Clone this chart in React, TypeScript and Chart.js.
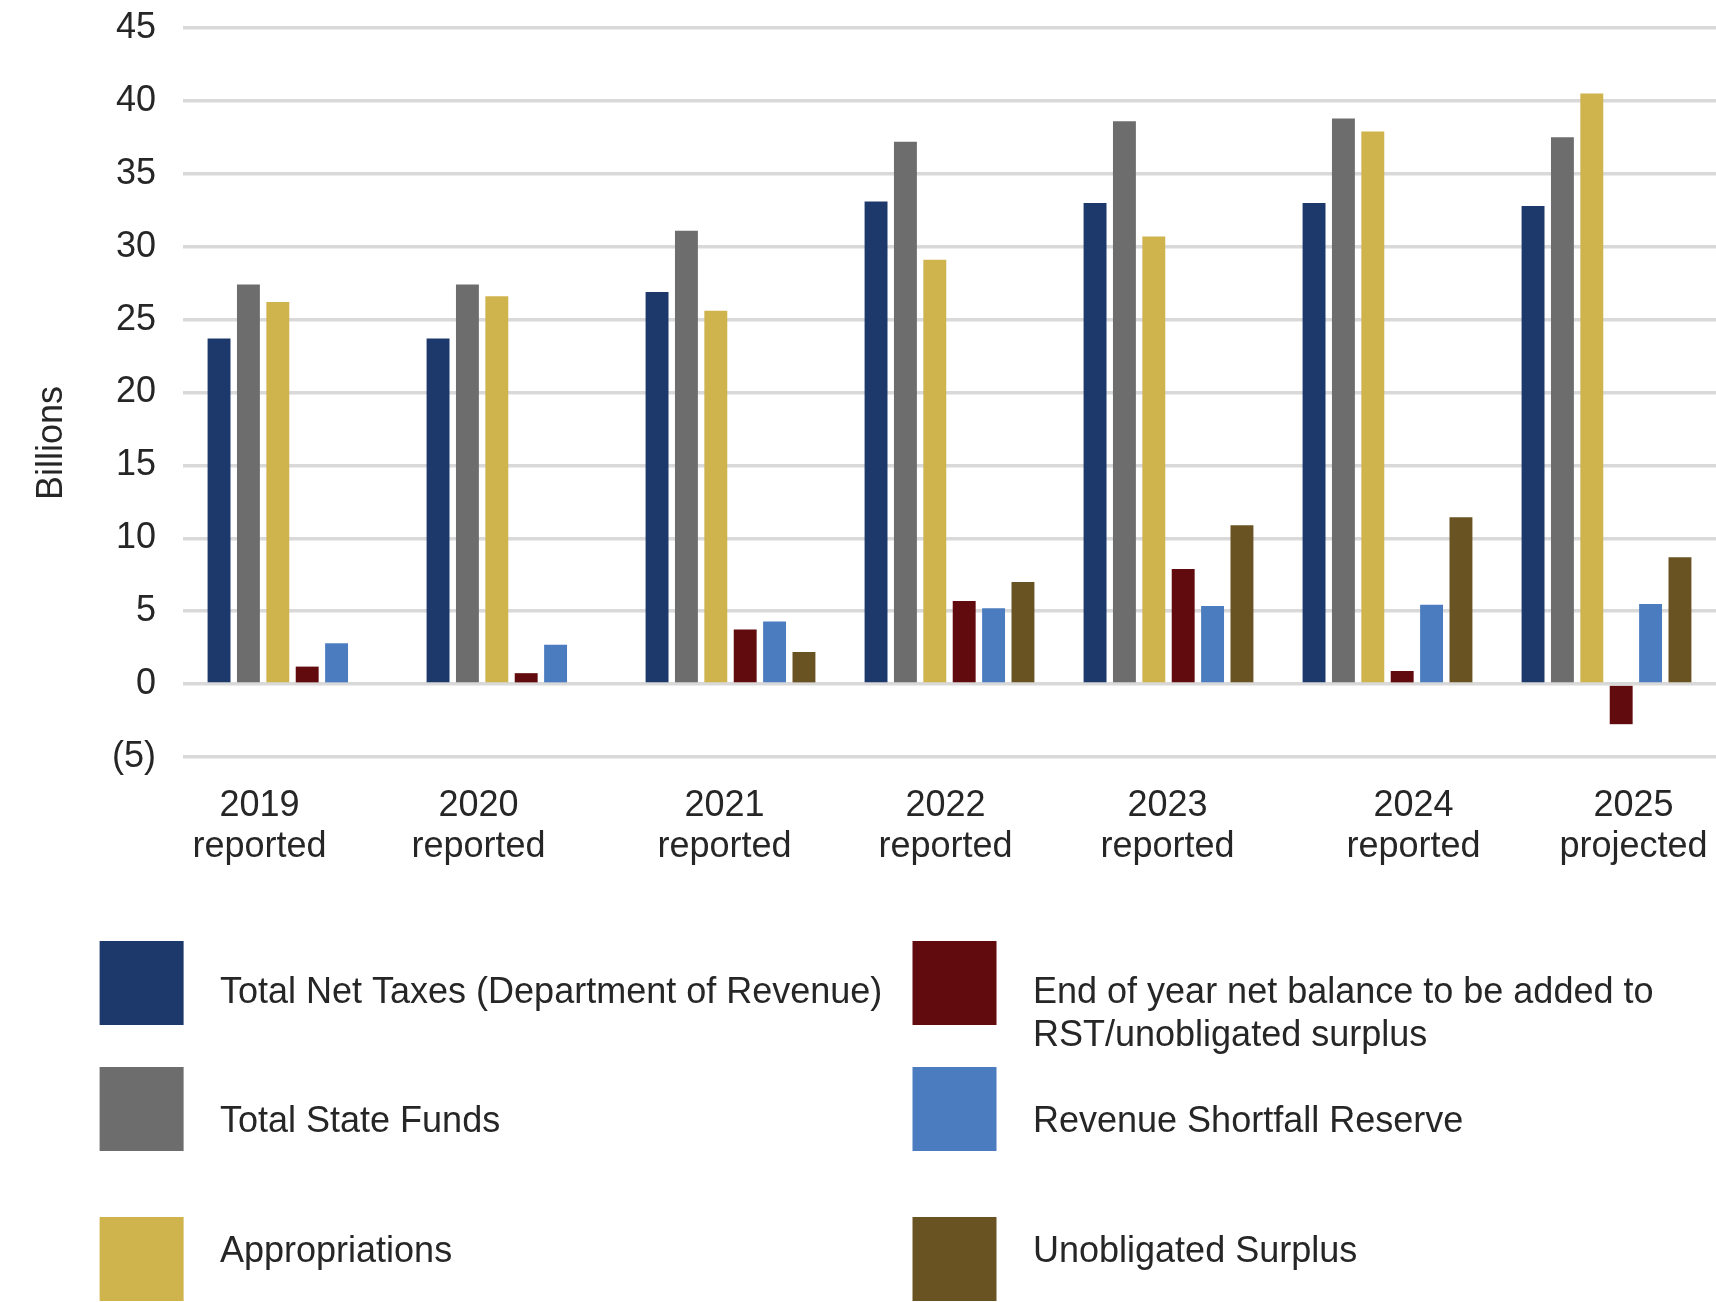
import React, { useEffect, useRef } from 'react';
import { Chart, registerables } from 'chart.js';

Chart.register(...registerables);

// ---- data ----
const categoryYears = ['2019', '2020', '2021', '2022', '2023', '2024', '2025'];
const categoryStatus = ['reported', 'reported', 'reported', 'reported', 'reported', 'reported', 'projected'];

const totalNetTaxes = [23.7, 23.7, 26.9, 33.1, 33.0, 33.0, 32.8];
const totalStateFunds = [27.4, 27.4, 31.1, 37.2, 38.6, 38.8, 37.5];
const appropriations = [26.2, 26.6, 25.6, 29.1, 30.7, 37.9, 40.5];
const endOfYearBalance = [1.2, 0.75, 3.75, 5.7, 7.9, 0.9, -2.75];
const revenueShortfallReserve = [2.8, 2.7, 4.3, 5.2, 5.35, 5.45, 5.5];
const unobligatedSurplus = [null, null, 2.2, 7.0, 10.9, 11.45, 8.7];

const seriesLabels = [
  'Total Net Taxes (Department of Revenue)',
  'Total State Funds',
  'Appropriations',
  'End of year net balance to be added to RST/unobligated surplus',
  'Revenue Shortfall Reserve',
  'Unobligated Surplus',
];

const yAxisTitle = 'Billions';
const yMin = -5;
const yMax = 45;
const yStep = 5;

// ---- styles ----
const seriesColors = ['#1d396c', '#6d6d6d', '#cfb34d', '#620b0e', '#4a7cbf', '#6a5322'];
const FONT = '"Liberation Sans", Arial, Helvetica, sans-serif';
const TEXT_COLOR = '#262626';
const GRID_COLOR = '#d9d9d9';
const W = 1716;
const H = 1302;

// x label horizontal nudges (layout only)
const xLabelShift = [-33, -33, -6, -4, -1, 26, 27];

const overlayPlugin = {
  id: 'overlay',
  afterDraw(chart: any) {
    const ctx = chart.ctx as CanvasRenderingContext2D;
    const xScale = chart.scales.x;
    ctx.save();
    ctx.fillStyle = TEXT_COLOR;
    ctx.font = `36px ${FONT}`;

    // y axis title
    ctx.save();
    ctx.translate(61.5, 443);
    ctx.rotate(-Math.PI / 2);
    ctx.textAlign = 'center';
    ctx.textBaseline = 'alphabetic';
    ctx.fillText(yAxisTitle, 0, 0);
    ctx.restore();

    // x category labels
    ctx.textAlign = 'center';
    ctx.textBaseline = 'alphabetic';
    categoryYears.forEach((yr, i) => {
      const cx = xScale.getPixelForValue(i) + xLabelShift[i];
      ctx.fillText(yr, cx, 816);
      ctx.fillText(categoryStatus[i], cx, 857);
    });

    // legend
    const colBoxX = [99.6, 912.5];
    const colTextX = [220, 1033];
    const colMaxW = [690, 683];
    const rowBoxTop = [941, 1067, 1217];
    const rowBaseline = [1003, 1132, 1262];
    const boxW = 84;
    const boxH = 84;
    ctx.textAlign = 'left';
    chart.data.datasets.forEach((ds: any, i: number) => {
      const col = Math.floor(i / 3);
      const row = i % 3;
      ctx.fillStyle = ds.backgroundColor;
      ctx.fillRect(colBoxX[col], rowBoxTop[row], boxW, boxH);
      ctx.fillStyle = TEXT_COLOR;
      const words = String(ds.label).split(' ');
      const lines: string[] = [];
      let cur = '';
      words.forEach((w) => {
        const test = cur ? cur + ' ' + w : w;
        if (ctx.measureText(test).width > colMaxW[col] && cur) {
          lines.push(cur);
          cur = w;
        } else {
          cur = test;
        }
      });
      if (cur) lines.push(cur);
      lines.forEach((ln, k) => {
        ctx.fillText(ln, colTextX[col], rowBaseline[row] + k * 43);
      });
    });

    ctx.restore();
  },
};

export default function App() {
  const canvasRef = useRef<HTMLCanvasElement | null>(null);

  useEffect(() => {
    if (!canvasRef.current) return;
    const seriesData = [
      totalNetTaxes,
      totalStateFunds,
      appropriations,
      endOfYearBalance,
      revenueShortfallReserve,
      unobligatedSurplus,
    ];
    const chart = new Chart(canvasRef.current, {
      type: 'bar',
      data: {
        labels: categoryYears,
        datasets: seriesData.map((d, i) => ({
          label: seriesLabels[i],
          data: d as any,
          backgroundColor: seriesColors[i],
          borderWidth: 0,
          categoryPercentage: 0.805,
          barPercentage: 0.78,
        })),
      },
      options: {
        responsive: false,
        devicePixelRatio: 1,
        animation: false,
        layout: { padding: { left: 0, right: 0, top: 28, bottom: H - 757 } },
        plugins: {
          legend: { display: false },
          tooltip: { enabled: false },
          title: { display: false },
        },
        scales: {
          x: {
            ticks: { display: false },
            grid: { display: false },
            border: { display: false },
            afterFit: (scale: any) => {
              scale.height = 0;
              scale.paddingLeft = 0;
              scale.paddingRight = 0;
            },
          },
          y: {
            min: yMin,
            max: yMax,
            ticks: {
              stepSize: yStep,
              padding: 27,
              color: TEXT_COLOR,
              font: { family: FONT, size: 36 },
              callback: (v: any) => (Number(v) < 0 ? `(${Math.abs(Number(v))})` : `${v}`),
            },
            grid: { color: GRID_COLOR, lineWidth: 3.5, drawTicks: false },
            border: { display: false },
            afterFit: (scale: any) => {
              scale.width = 183;
              scale.paddingTop = 0;
              scale.paddingBottom = 0;
            },
          },
        },
      },
      plugins: [overlayPlugin],
    });
    return () => chart.destroy();
  }, []);

  return (
    <div style={{ position: 'absolute', left: 0, top: 0, width: W, height: H, background: '#ffffff' }}>
      <canvas ref={canvasRef} width={W} height={H} style={{ display: 'block', width: W, height: H }} />
    </div>
  );
}
